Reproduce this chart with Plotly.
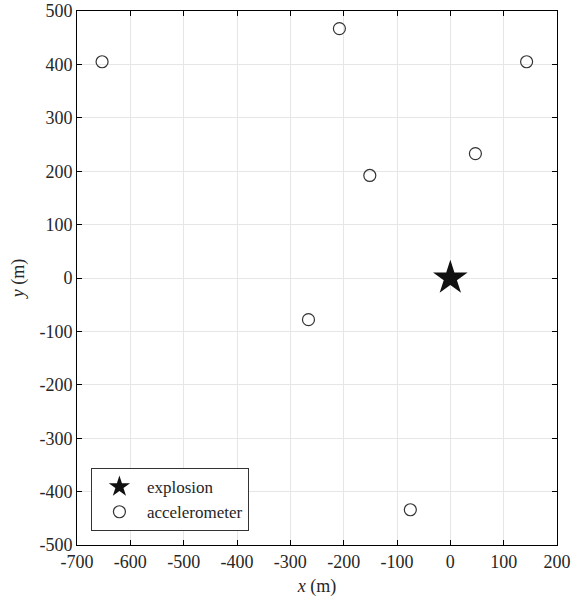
import plotly.graph_objects as go

acc_x = [-653, -208, 143, 47, -151, -266, -75]
acc_y = [405, 467, 405, 233, 192, -78, -434]
exp_x = [0]
exp_y = [0]
x_ticks = [-700, -600, -500, -400, -300, -200, -100, 0, 100, 200]
y_ticks = [-500, -400, -300, -200, -100, 0, 100, 200, 300, 400, 500]

font = "Liberation Serif"
tc = "#262626"

fig = go.Figure()
fig.add_trace(go.Scatter(x=exp_x, y=exp_y, mode="markers", name="explosion",
                         marker=dict(symbol="star", size=26, color="#111111",
                                     line=dict(width=0))))
fig.add_trace(go.Scatter(x=acc_x, y=acc_y, mode="markers", name="accelerometer",
                         marker=dict(symbol="circle-open", size=12, color="#333333",
                                     line=dict(width=1.2))))

axis_common = dict(showline=True, linecolor="black", linewidth=1, mirror="ticks",
                   ticks="inside", ticklen=5, tickcolor="black", tickwidth=1,
                   showgrid=True, gridcolor="#e6e6e6", gridwidth=1, zeroline=False,
                   automargin=False,
                   tickfont=dict(family=font, size=18, color=tc))

fig.update_xaxes(range=[-700, 200], tickvals=x_ticks, ticktext=[str(v) for v in x_ticks],
                 title=dict(text="<i>x</i> (m)", font=dict(family=font, size=18, color=tc),
                            standoff=8),
                 **axis_common)
fig.update_yaxes(range=[-500, 500], tickvals=y_ticks, ticktext=[str(v) for v in y_ticks],
                 title=dict(text="<i>y</i> (m)", font=dict(family=font, size=18, color=tc),
                            standoff=10),
                 **axis_common)

fig.update_layout(
    width=577, height=605,
    margin=dict(l=77, r=20, t=11, b=60),
    paper_bgcolor="white", plot_bgcolor="white",
    font=dict(family=font, size=18, color=tc),
    legend=dict(x=0.029, y=0.026, xanchor="left", yanchor="bottom",
                bgcolor="white", bordercolor="#333333", borderwidth=1,
                font=dict(family=font, size=17, color=tc),
                itemsizing="trace", tracegroupgap=0, itemwidth=45),
    showlegend=True,
)

fig.write_html("out.html")
